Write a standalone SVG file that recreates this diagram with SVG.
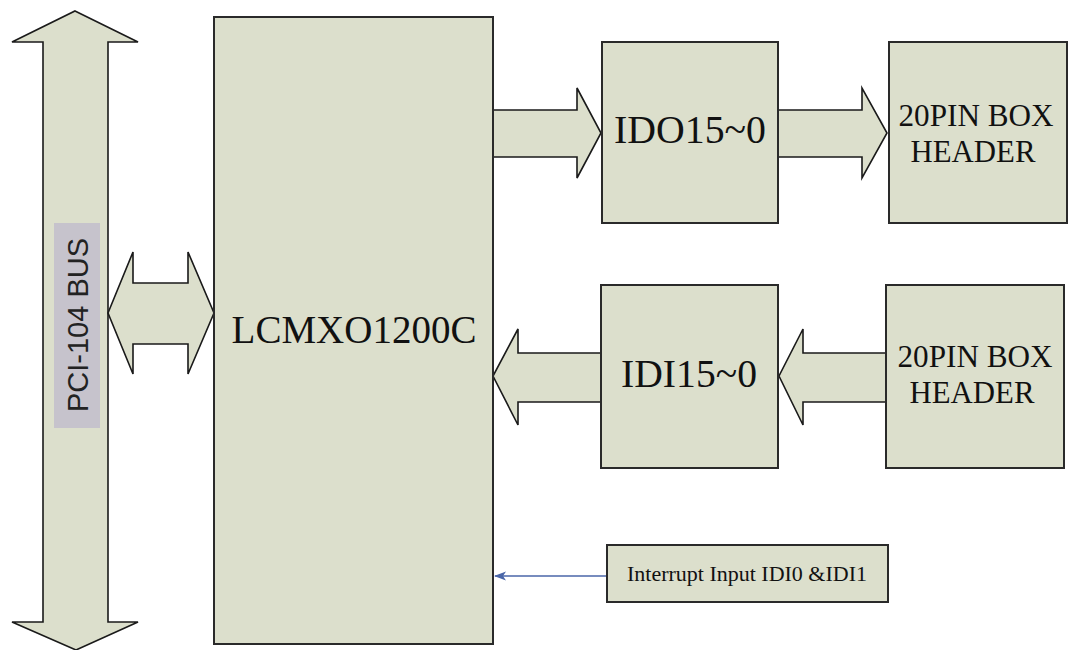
<svg xmlns="http://www.w3.org/2000/svg" width="1068" height="650" viewBox="0 0 1068 650">
<defs>
<style>
.box{fill:#dcdfcc;stroke:#2a2a2a;stroke-width:2}
.arr{fill:#dcdfcc;stroke:#1a1a1a;stroke-width:1.6;stroke-linejoin:miter}
.t{font-family:"Liberation Serif","Times New Roman",serif;fill:#111;text-anchor:middle}
.lbl{font-family:"Liberation Sans",Arial,sans-serif;fill:#222;text-anchor:middle}
</style>
<marker id="blueHead" viewBox="0 0 12 10" refX="11" refY="5" markerWidth="12" markerHeight="10" markerUnits="userSpaceOnUse" orient="auto">
<path d="M0,0.5 L12,5 L0,9.5 L3,5 Z" fill="#4a66a8"/>
</marker>
</defs>
<rect width="1068" height="650" fill="#ffffff"/>

<g id="connectors">
<path class="arr" d="M75,11 L138,42 L108,42 L108,622 L138,622 L76,650 L12,622 L43,622 L43,42 L12,42 Z"/>
<path class="arr" d="M108,313 L133,252 L133,283 L188,283 L188,252 L214,313 L188,374 L188,344 L133,344 L133,374 Z"/>
<path class="arr" d="M493,110 L577,110 L577,88 L601,133 L577,178 L577,157 L493,157"/>
<path class="arr" d="M778,110 L862,110 L862,88 L887,133 L862,178 L862,157 L778,157"/>
<path class="arr" d="M601,353 L518,353 L518,329 L493,376 L518,425 L518,402 L601,402"/>
<path class="arr" d="M886,353 L803,353 L803,329 L779,376 L803,425 L803,402 L886,402"/>
<line x1="607" y1="576" x2="495" y2="576" stroke="#4a66a8" stroke-width="1.5" marker-end="url(#blueHead)"/>
</g>

<g id="bus-label">
<rect x="54" y="223" width="46" height="205" fill="#c6c3cc"/>
<text class="lbl" font-size="29" transform="translate(88,325) rotate(-90)">PCI-104 BUS</text>
</g>

<g id="main">
<rect class="box" x="214" y="17" width="279" height="627"/>
<text class="t" x="354" y="343" font-size="39">LCMXO1200C</text>
</g>

<g id="ido">
<rect class="box" x="602" y="42" width="176" height="181"/>
<text class="t" x="690" y="143" font-size="39" textLength="152" lengthAdjust="spacingAndGlyphs">IDO15~0</text>
</g>

<g id="header1">
<rect class="box" x="889" y="42" width="178" height="181"/>
<text class="t" x="976" y="126" font-size="31" textLength="155" lengthAdjust="spacingAndGlyphs">20PIN BOX</text>
<text class="t" x="973" y="162" font-size="31" textLength="125" lengthAdjust="spacingAndGlyphs">HEADER</text>
</g>

<g id="idi">
<rect class="box" x="601" y="285" width="177" height="183"/>
<text class="t" x="689" y="387" font-size="39" textLength="136" lengthAdjust="spacingAndGlyphs">IDI15~0</text>
</g>

<g id="header2">
<rect class="box" x="886" y="285" width="178" height="183"/>
<text class="t" x="975" y="367" font-size="31" textLength="155" lengthAdjust="spacingAndGlyphs">20PIN BOX</text>
<text class="t" x="972" y="403" font-size="31" textLength="125" lengthAdjust="spacingAndGlyphs">HEADER</text>
</g>

<g id="interrupt">
<rect class="box" x="607" y="545" width="281" height="57"/>
<text class="t" x="747" y="581" font-size="22" textLength="240" lengthAdjust="spacingAndGlyphs">Interrupt Input IDI0 &amp;IDI1</text>
</g>
</svg>
